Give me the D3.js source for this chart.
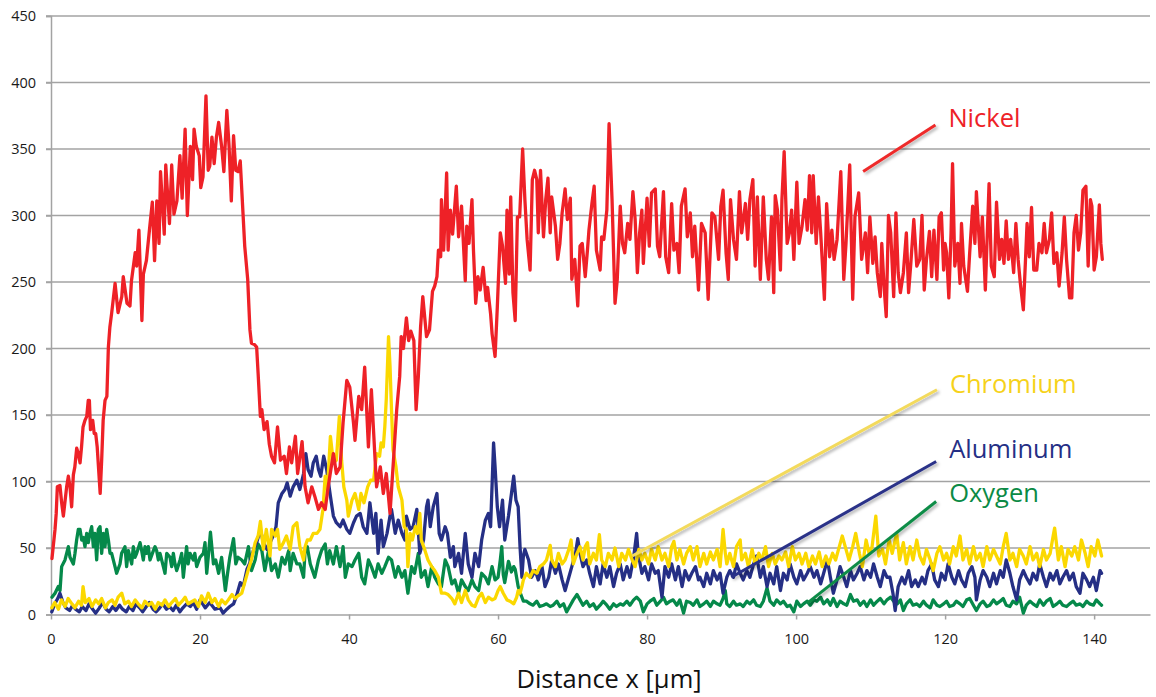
<!DOCTYPE html>
<html>
<head>
<meta charset="utf-8">
<script src="https://cdn.jsdelivr.net/npm/d3@7/dist/d3.min.js"></script>
<style>
  html, body { margin: 0; padding: 0; background: #ffffff; }
  svg { display: block; font-family: "Open Sans", "Noto Sans", sans-serif; }
</style>
</head>
<body>
<svg id="chart" width="1156" height="697"></svg>
<script>
// ---- Line-scan data: [distance in µm, counts] ----
const xTickValues = [0, 20, 40, 60, 80, 100, 120, 140];
const yTickValues = [0, 50, 100, 150, 200, 250, 300, 350, 400, 450];
const seriesNames = ["Nickel", "Chromium", "Aluminum", "Oxygen"];
const axisTitle = "Distance x [µm]";

const nickel = [
[0.13,42],[0.54,64],[0.7,76],[0.85,96],[1.2,97],[1.43,84],[1.66,74],[1.9,86],[2.1,96],[2.33,104],[2.55,96],[2.77,81],[3.0,105],[3.2,111],[3.45,125],[3.67,121],[3.9,114],[4.1,126],[4.3,141],[4.56,146],[4.8,149],[5.0,161],[5.15,161],[5.3,139],[5.6,146],[5.8,136],[6.0,136],[6.2,126],[6.6,91],[6.8,116],[7.0,146],[7.25,161],[7.5,164],[7.7,201],[7.9,216],[8.15,227],[8.6,249],[9.0,227],[9.5,239],[9.7,254],[10.2,234],[10.6,232],[10.8,251],[11.3,272],[11.5,262],[11.8,289],[12.2,221],[12.4,256],[12.8,266],[13.3,294],[13.6,310],[13.9,266],[14.2,311],[14.5,279],[14.7,333],[15.2,286],[15.4,338],[15.9,294],[16.2,338],[16.5,301],[16.9,311],[17.3,345],[17.6,313],[18.0,365],[18.3,300],[18.7,352],[19.0,327],[19.2,365],[19.5,352],[19.9,345],[20.1,321],[20.4,329],[20.8,390],[21.1,334],[21.3,337],[21.6,359],[21.9,339],[22.2,359],[22.5,370],[22.9,352],[23.2,333],[23.6,379],[23.9,352],[24.2,311],[24.5,360],[24.8,334],[25.1,333],[25.4,341],[26.0,277],[26.4,252],[26.7,214],[26.9,204],[27.3,203],[27.6,201],[27.8,181],[28.1,149],[28.3,154],[28.6,139],[29.0,145],[29.3,128],[29.6,119],[30.0,114],[30.4,141],[30.8,116],[31.3,119],[31.6,106],[32.0,126],[32.3,114],[32.8,134],[33.1,106],[33.7,130],[34.1,96],[34.5,84],[35.0,96],[35.4,89],[35.9,79],[36.3,84],[36.8,79],[37.2,96],[37.9,121],[38.3,106],[38.8,111],[39.2,144],[39.7,176],[40.1,171],[40.6,144],[40.8,131],[41.3,164],[41.7,154],[42.1,186],[42.6,126],[43.0,169],[43.5,116],[43.7,96],[44.2,111],[44.6,91],[45.0,106],[45.5,76],[46.0,119],[46.4,154],[46.8,179],[47.0,209],[47.3,200],[47.7,223],[48.0,206],[48.3,213],[48.7,206],[49.0,154],[49.3,179],[49.6,216],[49.9,239],[50.4,209],[50.8,214],[51.2,243],[51.5,247],[51.8,254],[52.0,274],[52.3,269],[52.4,312],[52.7,274],[53.1,332],[53.3,274],[53.6,304],[53.9,286],[54.4,322],[54.7,284],[55.1,307],[55.6,251],[55.8,292],[56.1,279],[56.5,312],[56.7,274],[57.0,234],[57.3,254],[57.6,244],[58.0,261],[58.4,236],[58.6,246],[59.0,226],[59.2,211],[59.6,194],[59.9,231],[60.3,287],[60.6,277],[61.0,249],[61.2,304],[61.5,256],[61.7,314],[62.0,242],[62.3,221],[62.6,299],[62.9,299],[63.3,350],[63.6,312],[63.9,282],[64.3,259],[64.6,327],[64.9,334],[65.2,327],[65.4,287],[65.7,334],[66.1,284],[66.4,312],[66.7,328],[67.0,287],[67.2,314],[67.7,292],[68.0,267],[68.3,279],[68.6,302],[69.0,320],[69.3,297],[69.7,313],[69.9,252],[70.3,267],[70.7,232],[71.0,277],[71.3,279],[71.7,254],[72.0,274],[72.2,289],[72.6,309],[72.9,322],[73.2,274],[73.7,259],[73.9,284],[74.2,282],[74.6,304],[74.9,369],[75.3,312],[75.7,234],[76.0,252],[76.4,307],[76.7,279],[77.0,272],[77.4,294],[77.7,282],[78.1,318],[78.4,297],[78.7,257],[79.0,287],[79.3,304],[79.5,264],[80.0,313],[80.3,277],[80.6,317],[81.1,320],[81.4,277],[81.7,269],[82.2,318],[82.5,269],[82.9,257],[83.3,309],[83.6,274],[84.0,279],[84.3,257],[84.6,307],[85.1,320],[85.4,284],[85.8,302],[86.1,269],[86.4,292],[86.9,244],[87.3,294],[87.8,287],[88.2,237],[88.7,302],[89.1,299],[89.6,267],[89.9,307],[90.2,319],[90.6,272],[90.9,252],[91.2,312],[91.6,282],[92.0,267],[92.4,318],[92.7,287],[93.2,309],[93.5,282],[93.8,312],[94.2,327],[94.5,262],[94.8,314],[95.2,252],[95.6,314],[96.0,267],[96.3,252],[96.7,299],[97.0,242],[97.2,315],[97.5,304],[97.9,259],[98.1,312],[98.4,348],[98.8,279],[99.1,287],[99.4,304],[99.7,267],[100.1,325],[100.4,279],[100.8,292],[101.2,312],[101.5,289],[101.8,330],[102.1,287],[102.3,330],[102.7,279],[103.0,314],[103.3,287],[103.8,237],[104.1,309],[104.5,269],[104.8,289],[105.1,267],[105.5,282],[106.0,333],[106.4,252],[106.7,279],[107.2,338],[107.6,237],[107.9,299],[108.4,317],[108.8,267],[109.3,287],[109.6,257],[109.9,299],[110.3,264],[110.6,284],[110.9,257],[111.3,239],[111.5,279],[111.8,247],[112.1,224],[112.4,300],[112.7,287],[113.1,239],[113.4,302],[113.7,257],[114.0,242],[114.4,257],[114.8,287],[115.1,242],[115.4,264],[115.8,297],[116.2,262],[116.6,267],[116.9,300],[117.2,244],[117.5,267],[117.9,288],[118.2,254],[118.5,289],[118.9,252],[119.2,299],[119.5,302],[119.8,259],[120.0,279],[120.2,272],[120.5,238],[120.8,287],[121.0,339],[121.3,262],[121.7,279],[122.0,249],[122.2,294],[122.5,262],[123.0,243],[123.3,272],[123.7,307],[124.0,279],[124.2,318],[124.7,269],[125.0,299],[125.4,244],[125.9,324],[126.2,262],[126.6,254],[126.9,310],[127.3,267],[127.6,282],[127.9,264],[128.2,296],[128.5,267],[128.8,282],[129.2,257],[129.5,294],[129.8,267],[130.1,249],[130.5,229],[131.0,294],[131.3,269],[131.6,306],[131.9,259],[132.3,259],[132.6,279],[133.0,272],[133.3,294],[133.6,272],[134.0,282],[134.3,302],[134.6,264],[135.0,272],[135.3,247],[135.7,272],[136.0,299],[136.3,267],[136.7,238],[137.0,238],[137.3,287],[137.6,300],[137.9,274],[138.2,287],[138.5,319],[138.9,322],[139.2,262],[139.5,312],[139.7,307],[140.0,259],[140.3,269],[140.7,308],[140.9,279],[141.1,267]
];

const chromium = [
[0.1,5],[0.5,9],[1.0,4],[1.4,11],[1.9,6],[2.3,12],[2.8,8],[3.2,5],[3.7,10],[4.1,7],[4.3,21],[4.6,9],[5.1,12],[5.5,6],[6.0,11],[6.4,8],[6.8,12],[7.3,5],[7.7,9],[8.2,11],[8.6,7],[9.0,13],[9.5,16],[9.9,8],[10.4,10],[10.8,6],[11.3,11],[11.7,8],[12.2,5],[12.6,10],[13.1,7],[13.5,9],[14.0,4],[14.4,9],[14.9,7],[15.3,11],[15.8,6],[16.2,9],[16.7,12],[17.1,7],[17.6,10],[18.0,13],[18.4,8],[18.7,9],[19.3,11],[19.8,6],[20.2,14],[20.7,9],[21.1,16],[21.6,9],[22.0,12],[22.5,6],[22.9,11],[23.4,8],[23.8,11],[24.3,15],[24.7,12],[25.1,14],[25.6,16],[26.0,24],[26.5,34],[26.9,41],[27.4,54],[27.8,59],[28.1,70],[28.5,49],[28.9,64],[29.4,44],[29.6,64],[30.1,59],[30.4,64],[30.7,49],[31.2,54],[31.6,59],[32.1,49],[32.5,66],[33.0,69],[33.4,51],[33.9,41],[34.1,51],[34.4,56],[34.8,56],[35.2,61],[35.7,61],[36.1,64],[36.5,79],[36.8,104],[37.1,94],[37.5,134],[37.9,114],[38.3,116],[38.7,149],[39.0,116],[39.3,96],[39.7,86],[39.9,74],[40.4,86],[40.8,91],[41.3,79],[41.6,91],[42.0,84],[42.5,96],[42.9,101],[43.3,101],[43.7,121],[44.1,119],[44.3,129],[44.6,126],[44.8,141],[45.0,162],[45.3,209],[45.5,187],[45.7,154],[45.9,124],[46.3,111],[46.6,96],[47.1,86],[47.4,66],[47.7,64],[47.9,36],[48.2,61],[48.5,56],[48.9,66],[49.2,61],[49.5,76],[49.7,56],[50.2,48],[50.6,41],[51.1,36],[51.5,33],[52.0,28],[52.4,16],[52.9,16],[53.3,15],[53.8,12],[54.2,8],[54.7,16],[55.1,9],[55.6,18],[56.0,11],[56.5,7],[56.9,6],[57.4,13],[57.8,16],[58.3,9],[58.7,13],[59.2,11],[59.6,12],[60.0,18],[60.3,21],[60.7,16],[61.2,11],[61.6,10],[62.1,8],[62.5,13],[62.7,18],[62.95,16],[63.2,21],[63.4,26],[63.8,31],[64.3,28],[64.7,33],[65.2,31],[65.6,36],[66.1,38],[66.5,41],[67.0,52],[67.2,41],[67.7,36],[68.1,46],[68.6,38],[69.0,41],[69.5,49],[69.8,56],[70.1,38],[70.6,46],[71.0,51],[71.4,41],[71.7,51],[72.0,54],[72.3,38],[72.8,46],[73.2,41],[73.6,60],[73.9,41],[74.4,36],[74.8,46],[75.3,41],[75.7,50],[76.2,36],[76.6,46],[77.1,41],[77.5,49],[78.0,41],[78.4,36],[78.9,49],[79.3,41],[79.7,46],[80.2,38],[80.6,49],[81.1,41],[81.5,51],[82.0,41],[82.4,46],[82.9,36],[83.3,51],[83.6,55],[84.0,41],[84.4,49],[84.9,38],[85.3,46],[85.8,51],[86.2,41],[86.7,51],[87.1,36],[87.6,46],[88.0,38],[88.5,47],[88.9,41],[89.4,49],[89.8,36],[90.2,64],[90.5,46],[90.7,38],[91.1,46],[91.6,36],[92.0,51],[92.5,56],[92.7,41],[93.2,46],[93.6,36],[94.1,49],[94.5,38],[95.0,46],[95.4,41],[95.9,51],[96.3,36],[96.8,46],[97.2,38],[97.7,44],[98.1,41],[98.6,47],[99.0,36],[99.5,51],[99.9,41],[100.4,46],[100.8,38],[101.3,46],[101.7,36],[102.2,44],[102.6,38],[103.1,47],[103.5,36],[104.0,44],[104.4,38],[104.9,46],[105.3,41],[105.8,51],[106.2,59],[106.7,49],[107.1,41],[107.6,51],[108.0,61],[108.5,46],[108.9,36],[109.4,56],[109.8,46],[110.2,51],[110.7,74],[111.1,44],[111.6,49],[112.0,38],[112.5,56],[112.9,46],[113.5,61],[113.9,41],[114.4,54],[114.8,38],[115.3,51],[115.7,41],[116.2,56],[116.6,44],[117.1,38],[117.5,49],[118.0,41],[118.4,33],[118.9,46],[119.3,51],[119.8,41],[120.2,46],[120.6,38],[121.1,51],[121.5,44],[122.0,59],[122.4,41],[122.9,49],[123.3,38],[123.8,51],[124.2,41],[124.7,46],[125.1,36],[125.6,51],[126.0,41],[126.5,49],[126.9,44],[127.4,38],[127.8,51],[128.2,61],[128.7,41],[129.1,46],[129.6,36],[130.0,49],[130.5,44],[130.9,38],[131.4,51],[131.8,41],[132.3,46],[132.7,36],[133.2,49],[133.6,41],[134.1,46],[134.5,59],[134.7,65],[135.2,41],[135.6,51],[136.1,36],[136.5,49],[137.0,44],[137.4,51],[137.9,41],[138.3,56],[138.8,46],[139.2,36],[139.6,51],[140.1,44],[140.5,56],[141.0,44]
];

const aluminum = [
[0.1,2],[0.5,8],[0.9,12],[1.2,16],[1.6,9],[2.0,5],[2.5,3],[2.9,7],[3.3,4],[3.8,2],[4.2,6],[4.7,3],[5.1,8],[5.6,4],[6.0,1],[6.5,5],[6.9,9],[7.4,4],[7.8,2],[8.3,6],[8.7,3],[9.2,7],[9.6,4],[10.1,2],[10.5,6],[11.0,3],[11.4,8],[11.9,5],[12.3,2],[12.8,6],[13.2,9],[13.7,4],[14.1,2],[14.6,5],[15.0,8],[15.5,4],[15.9,6],[16.4,3],[16.8,7],[17.3,2],[17.7,5],[18.2,8],[18.7,6],[19.1,9],[19.55,4],[20.0,11],[20.7,5],[21.3,9],[22.0,4],[22.7,5],[23.1,1],[23.6,4],[24.0,6],[24.5,8],[24.9,14],[25.4,24],[25.8,21],[26.3,34],[26.7,39],[27.2,49],[27.6,54],[28.1,64],[28.5,54],[29.0,49],[29.4,54],[29.8,59],[30.2,66],[30.5,84],[31.0,91],[31.4,94],[31.7,99],[32.1,89],[32.5,96],[33.0,101],[33.4,94],[33.9,106],[34.2,121],[34.5,109],[34.9,104],[35.2,114],[35.6,119],[35.9,109],[36.2,104],[36.6,119],[37.0,109],[37.5,89],[37.9,74],[38.3,69],[38.8,66],[39.2,71],[39.7,64],[40.1,61],[40.6,69],[41.0,74],[41.5,76],[41.9,66],[42.4,61],[42.8,84],[43.3,61],[43.6,76],[43.9,46],[44.3,71],[44.6,51],[45.1,61],[45.5,74],[45.7,79],[46.2,61],[46.6,71],[47.1,61],[47.5,56],[47.7,74],[48.2,64],[48.6,66],[49.1,79],[49.5,46],[50.0,56],[50.4,81],[50.6,86],[50.9,66],[51.3,81],[51.8,91],[52.1,61],[52.4,56],[52.9,66],[53.2,61],[53.6,43],[54.0,51],[54.2,36],[54.7,46],[55.1,31],[55.6,61],[56.0,38],[56.5,28],[56.9,46],[57.4,36],[57.8,56],[58.3,71],[58.7,76],[59.0,66],[59.4,129],[59.6,111],[59.9,81],[60.2,66],[60.6,86],[60.9,56],[61.4,74],[61.8,91],[62.1,104],[62.4,86],[62.7,81],[62.95,51],[63.2,28],[63.4,44],[63.6,49],[64.1,41],[64.5,28],[65.0,33],[65.4,26],[65.9,36],[66.3,21],[66.8,28],[67.2,41],[67.7,31],[68.1,38],[68.6,26],[69.0,18],[69.5,28],[69.9,36],[70.4,46],[70.7,57],[71.0,46],[71.4,36],[71.9,41],[72.3,31],[72.8,21],[73.2,36],[73.7,23],[74.1,38],[74.6,28],[75.0,36],[75.5,21],[75.9,31],[76.4,38],[76.8,26],[77.3,36],[77.7,28],[78.2,43],[78.6,61],[78.8,46],[79.3,31],[79.7,36],[80.2,26],[80.6,38],[81.1,31],[81.5,33],[82.0,13],[82.4,36],[82.9,28],[83.3,38],[83.8,26],[84.2,36],[84.7,21],[85.1,33],[85.6,26],[86.0,31],[86.5,36],[86.9,26],[87.1,28],[87.6,21],[88.0,31],[88.5,23],[88.9,33],[89.4,26],[89.8,31],[90.2,16],[90.7,28],[91.1,33],[91.6,28],[92.0,38],[92.5,31],[92.9,26],[93.4,33],[93.8,28],[94.3,38],[94.7,44],[95.2,28],[95.6,36],[96.1,21],[96.5,31],[97.0,23],[97.4,36],[97.9,18],[98.3,31],[98.8,26],[99.2,38],[99.7,28],[100.1,23],[100.6,33],[101.0,26],[101.5,31],[101.9,36],[102.4,28],[102.8,33],[103.3,23],[103.7,31],[104.2,41],[104.6,28],[105.0,16],[105.5,26],[105.9,36],[106.4,28],[106.8,21],[107.3,33],[107.7,26],[108.2,31],[108.6,36],[109.1,26],[109.5,33],[110.0,28],[110.4,38],[110.9,28],[111.3,21],[111.8,33],[112.2,28],[112.6,28],[113.0,16],[113.3,3],[113.7,21],[114.2,28],[114.6,23],[115.1,33],[115.5,21],[116.0,26],[116.4,21],[116.9,28],[117.3,23],[117.7,33],[118.2,38],[118.6,26],[119.1,21],[119.5,31],[120.0,26],[120.4,38],[120.9,28],[121.3,23],[121.8,33],[122.2,26],[122.7,21],[123.1,31],[123.6,36],[124.0,28],[124.2,11],[124.7,26],[125.1,33],[125.6,28],[126.0,21],[126.5,31],[126.9,23],[127.4,33],[127.8,28],[128.2,41],[128.7,31],[129.1,21],[129.6,11],[130.0,26],[130.5,33],[130.9,28],[131.4,23],[131.8,31],[132.3,26],[132.7,38],[133.2,28],[133.6,21],[134.1,31],[134.5,26],[135.0,33],[135.4,23],[135.8,28],[136.3,33],[136.7,26],[137.2,31],[137.6,21],[138.1,16],[138.5,31],[139.0,26],[139.4,21],[139.9,28],[140.3,18],[140.8,33],[141.0,31]
];

const oxygen = [
[0.13,13],[0.54,16],[0.98,21],[1.21,18],[1.43,36],[1.88,41],[2.33,51],[2.55,43],[3.0,38],[3.22,46],[3.44,56],[3.67,64],[3.89,64],[4.12,56],[4.34,58],[4.56,51],[4.79,61],[5.0,54],[5.23,61],[5.46,66],[5.68,51],[5.9,61],[6.13,41],[6.35,64],[6.58,66],[6.8,46],[7.02,61],[7.25,51],[7.47,64],[7.7,56],[7.92,46],[8.14,46],[8.59,36],[8.81,31],[9.26,38],[9.48,46],[9.93,51],[10.15,36],[10.38,48],[10.83,38],[11.05,51],[11.27,43],[11.5,46],[11.95,54],[12.17,48],[12.39,41],[12.62,51],[12.84,46],[13.06,51],[13.29,41],[13.74,48],[13.96,51],[14.18,48],[14.41,41],[14.63,46],[15.08,36],[15.3,31],[15.53,46],[15.97,43],[16.2,36],[16.42,46],[16.64,38],[16.87,33],[17.32,41],[17.54,46],[17.76,28],[18.2,51],[18.4,38],[18.66,46],[19.1,41],[19.3,46],[19.55,36],[20.0,43],[20.45,46],[20.67,54],[20.9,31],[21.1,43],[21.4,62],[21.8,38],[22.1,41],[22.5,31],[22.9,43],[23.4,18],[23.7,31],[24.0,43],[24.5,57],[24.8,38],[25.1,43],[25.6,41],[26.0,38],[26.5,51],[26.9,33],[27.4,41],[27.8,53],[28.3,48],[28.7,33],[29.2,48],[29.6,33],[30.1,38],[30.5,28],[31.0,43],[31.4,38],[31.9,48],[32.1,33],[32.5,46],[33.0,38],[33.4,38],[33.9,28],[34.1,48],[34.4,51],[34.8,38],[35.1,33],[35.4,28],[35.9,41],[36.3,48],[36.8,53],[37.1,38],[37.4,48],[37.9,38],[38.3,51],[38.8,36],[39.2,51],[39.5,28],[39.9,38],[40.4,36],[40.8,41],[41.3,46],[41.7,28],[42.1,23],[42.6,41],[43.0,36],[43.5,28],[43.9,38],[44.4,31],[44.8,36],[45.3,43],[45.7,41],[46.2,28],[46.6,36],[47.1,28],[47.5,33],[47.9,16],[48.4,36],[48.8,31],[49.3,46],[49.7,28],[50.2,33],[50.6,21],[51.1,36],[51.5,28],[52.0,23],[52.4,21],[52.9,41],[53.3,36],[53.8,23],[54.2,26],[54.7,16],[55.1,26],[55.6,21],[56.0,18],[56.5,26],[56.9,21],[57.4,18],[57.8,31],[58.3,28],[58.7,23],[59.2,36],[59.6,26],[60.0,28],[60.3,41],[60.5,51],[60.7,30],[60.9,24],[61.4,40],[61.8,32],[62.1,36],[62.3,34],[62.7,21],[63.0,16],[63.2,13],[63.4,10],[63.8,10],[64.3,8],[64.7,7],[65.2,10],[65.6,6],[66.1,7],[66.5,8],[67.0,6],[67.4,7],[67.9,10],[68.3,6],[68.8,8],[69.2,2],[69.7,7],[70.1,11],[70.6,15],[71.0,11],[71.4,7],[71.9,10],[72.3,6],[72.8,8],[73.2,4],[73.7,7],[74.1,10],[74.6,7],[75.0,4],[75.5,8],[75.9,6],[76.4,8],[76.8,7],[77.3,10],[77.7,7],[78.2,11],[78.6,13],[79.1,10],[79.5,2],[80.0,8],[80.4,10],[80.9,12],[81.3,7],[81.8,10],[82.2,13],[82.6,8],[83.1,10],[83.5,11],[84.0,7],[84.4,11],[84.9,1],[85.3,10],[85.8,9],[86.2,7],[86.7,11],[87.1,6],[87.6,8],[88.0,10],[88.5,6],[88.9,10],[89.4,8],[89.8,7],[90.2,12],[90.5,18],[90.7,8],[91.1,6],[91.6,10],[92.0,7],[92.5,8],[92.9,6],[93.4,10],[93.8,8],[94.3,11],[94.7,7],[95.2,6],[95.6,10],[96.1,20],[96.5,10],[97.0,7],[97.4,11],[97.9,8],[98.3,10],[98.8,6],[99.2,7],[99.7,2],[100.1,10],[100.6,6],[101.0,8],[101.5,10],[101.9,7],[102.4,11],[102.8,10],[103.3,13],[103.7,8],[104.2,11],[104.6,7],[105.0,12],[105.5,6],[105.9,10],[106.4,8],[106.8,7],[107.3,15],[107.7,10],[108.2,11],[108.6,7],[109.1,10],[109.5,6],[110.0,11],[110.4,7],[110.9,10],[111.3,12],[111.8,8],[112.2,11],[112.7,13],[113.1,10],[113.6,8],[114.0,11],[114.4,3],[114.8,8],[115.3,11],[115.7,7],[116.2,8],[116.6,6],[117.1,10],[117.5,7],[118.0,5],[118.4,11],[118.9,7],[119.3,6],[119.8,8],[120.2,10],[120.6,6],[121.1,7],[121.5,10],[122.0,8],[122.4,6],[122.9,11],[123.3,12],[123.8,7],[124.2,3],[124.7,8],[125.1,10],[125.6,6],[126.0,7],[126.5,11],[126.9,8],[127.4,10],[127.8,12],[128.2,7],[128.7,6],[129.1,10],[129.6,8],[130.0,13],[130.5,1],[130.9,7],[131.4,10],[131.8,8],[132.3,6],[132.7,11],[133.2,7],[133.6,10],[134.1,12],[134.5,6],[135.0,8],[135.4,10],[135.8,7],[136.3,6],[136.7,8],[137.2,10],[137.6,7],[138.1,8],[138.5,6],[139.0,10],[139.4,8],[139.9,7],[140.3,11],[140.8,8],[141.0,7]
];

// ---- Layout ----
const W = 1156, H = 697;
const plot = { left: 51, right: 1150, top: 16, bottom: 614.5 };

const svg = d3.select("#chart");

const x = d3.scaleLinear().domain([0, 147.5]).range([plot.left, plot.right]);
const y = d3.scaleLinear().domain([0, 450]).range([plot.bottom, plot.top]);

const gridColor = "#a3a3a3";

// drop shadow used by the callout leaders
const defs = svg.append("defs");
const f = defs.append("filter").attr("id", "leaderShadow")
  .attr("x", "-10%").attr("y", "-10%").attr("width", "130%").attr("height", "140%");
f.append("feDropShadow").attr("dx", 2).attr("dy", 2).attr("stdDeviation", 1.6)
  .attr("flood-color", "#000").attr("flood-opacity", 0.3);

// horizontal gridlines (with short tick stubs left of the axis)
svg.append("g").selectAll("line").data(yTickValues.filter(d => d > 0)).join("line")
  .attr("x1", plot.left - 5).attr("x2", plot.right)
  .attr("y1", d => y(d)).attr("y2", d => y(d))
  .attr("stroke", gridColor).attr("stroke-width", 1.5);

// y axis
const yAxis = svg.append("g").attr("transform", `translate(${plot.left},0)`)
  .call(d3.axisLeft(y).tickValues(yTickValues).tickSize(5).tickPadding(10));
yAxis.select(".domain").attr("stroke", gridColor).attr("stroke-width", 1.5);
yAxis.selectAll(".tick line").attr("stroke", gridColor).attr("stroke-width", 1.5);
yAxis.selectAll(".tick text").attr("font-family", "'Open Sans', sans-serif")
  .attr("font-size", 14.5).attr("fill", "#1a1a1a");

// x axis
const xAxis = svg.append("g").attr("transform", `translate(0,${plot.bottom})`)
  .call(d3.axisBottom(x).tickValues(xTickValues).tickSize(5).tickPadding(14).tickSizeOuter(0));
xAxis.select(".domain").attr("stroke", gridColor).attr("stroke-width", 1.5);
xAxis.selectAll(".tick line").attr("stroke", gridColor).attr("stroke-width", 1.5);
xAxis.selectAll(".tick text").attr("font-family", "'Open Sans', sans-serif")
  .attr("font-size", 14.5).attr("fill", "#1a1a1a");

// axis title
svg.append("text")
  .attr("x", 609).attr("y", 688)
  .attr("text-anchor", "middle")
  .attr("font-size", 25.5).attr("fill", "#111")
  .text(axisTitle);

// series lines
const line = d3.line().x(d => x(d[0])).y(d => y(d[1])).curve(d3.curveLinear);
const colors = {
  Nickel: "#ee2127",
  Chromium: "#fbd800",
  Aluminum: "#252f85",
  Oxygen: "#05894a"
};
const seriesData = { Nickel: nickel, Chromium: chromium, Aluminum: aluminum, Oxygen: oxygen };
const drawOrder = ["Oxygen", "Aluminum", "Chromium", "Nickel"];

svg.append("g").selectAll("path").data(drawOrder).join("path")
  .attr("d", k => line(seriesData[k]))
  .attr("fill", "none")
  .attr("stroke", k => colors[k])
  .attr("stroke-width", 3.3)
  .attr("stroke-linejoin", "round")
  .attr("stroke-linecap", "round");

// callout leaders and series labels (anchors in data units)
const callouts = [
  { name: seriesNames[0], from: [109.0, 333], to: [118.7, 368], dy: 2,  lineColor: "#ee2a2a", textColor: "#ee2127" },
  { name: seriesNames[1], from: [78.0, 44],   to: [118.9, 169], dy: 3,  lineColor: "#f3da5c", textColor: "#f6d21a" },
  { name: seriesNames[2], from: [91.3, 28],   to: [118.8, 115], dy: -4, lineColor: "#2a3188", textColor: "#252f85" },
  { name: seriesNames[3], from: [101.5, 8.6], to: [118.8, 85],  dy: 1,  lineColor: "#0e8c47", textColor: "#0b8a45" }
];

const cg = svg.append("g");
cg.selectAll("line").data(callouts).join("line")
  .attr("x1", d => x(d.from[0])).attr("y1", d => y(d.from[1]))
  .attr("x2", d => x(d.to[0])).attr("y2", d => y(d.to[1]))
  .attr("stroke", d => d.lineColor).attr("stroke-width", 3)
  .attr("filter", "url(#leaderShadow)");
cg.selectAll("text").data(callouts).join("text")
  .attr("x", d => x(d.to[0]) + 13)
  .attr("y", d => y(d.to[1]) + d.dy)
  .attr("font-size", 25.5)
  .attr("fill", d => d.textColor)
  .text(d => d.name);
</script>
</body>
</html>
